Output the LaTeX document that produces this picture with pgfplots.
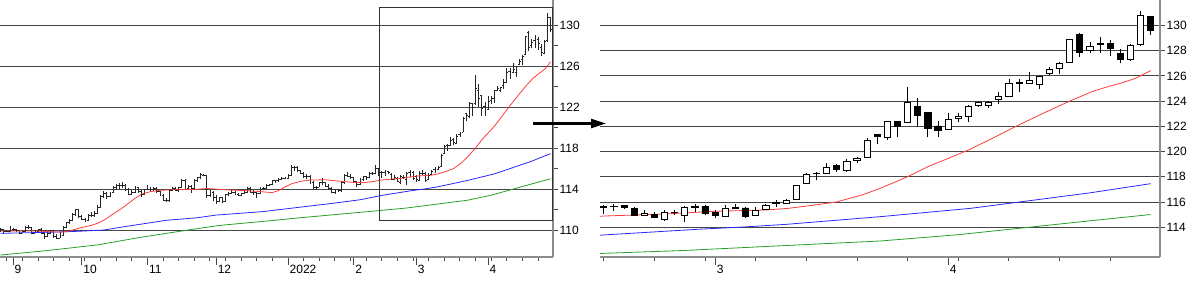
\documentclass[border=0pt]{standalone}
\usepackage{fontspec}
\setmainfont{Liberation Sans}
\usepackage{pgfplots}
\usepackage{pgfplotstable}
\pgfplotsset{compat=1.18}
\usetikzlibrary{arrows.meta}

\pgfdeclareplotmark{openL}{\pgfpathmoveto{\pgfqpoint{-1.5pt}{0pt}}\pgfpathlineto{\pgfqpoint{0pt}{0pt}}\pgfusepathqstroke}
\pgfdeclareplotmark{closeR}{\pgfpathmoveto{\pgfqpoint{0pt}{0pt}}\pgfpathlineto{\pgfqpoint{1.5pt}{0pt}}\pgfusepathqstroke}

\definecolor{maRed}{RGB}{255,60,60}
\definecolor{maBlue}{RGB}{40,40,255}
\definecolor{maGreen}{RGB}{40,160,40}
\definecolor{axgray}{RGB}{140,140,140}
\definecolor{gridc}{RGB}{70,70,70}

\pgfplotstableread{
x o h l c
0 110.00 110.20 109.85 110.08
1 110.08 110.10 109.60 109.83
2 109.83 110.00 109.80 109.91
3 109.91 110.40 109.85 110.02
4 110.02 110.20 109.95 110.02
5 110.02 110.10 109.85 109.93
6 109.93 110.00 109.60 109.71
7 109.71 109.90 109.70 109.83
8 109.83 110.40 109.80 110.27
9 110.27 110.45 110.10 110.25
10 110.25 110.30 109.60 109.72
11 109.72 110.05 109.70 109.92
12 109.92 110.15 109.85 110.04
13 110.04 110.20 109.60 109.69
14 109.69 109.80 109.15 109.37
15 109.37 109.80 109.30 109.71
16 109.71 110.05 109.65 109.94
17 109.94 110.00 109.25 109.39
18 109.39 109.60 109.10 109.22
19 109.22 109.85 109.20 109.53
20 109.53 110.40 109.45 110.31
21 110.31 110.80 110.20 110.74
22 110.74 111.05 110.60 110.98
23 110.98 111.70 110.90 111.51
24 111.51 112.05 111.40 111.97
25 111.97 112.10 111.20 111.29
26 111.29 111.45 110.95 111.04
27 111.04 111.20 110.80 110.92
28 110.92 111.55 110.85 111.44
29 111.44 111.80 111.30 111.43
30 111.43 111.90 111.30 111.63
31 111.63 112.40 111.60 112.21
32 112.21 113.40 112.15 113.30
33 113.30 113.80 113.10 113.60
34 113.60 113.75 113.00 113.26
35 113.26 113.75 113.20 113.68
36 113.68 114.30 113.65 114.21
37 114.21 114.45 113.95 114.33
38 114.33 114.60 114.00 114.37
39 114.37 114.70 114.10 114.34
40 114.34 114.45 113.80 114.00
41 114.00 114.10 113.40 113.50
42 113.50 113.90 113.40 113.70
43 113.70 114.30 113.60 114.13
44 114.13 114.20 113.60 113.77
45 113.77 113.90 113.25 113.53
46 113.53 114.00 113.40 113.95
47 113.95 114.40 113.90 114.00
48 114.00 114.20 113.70 113.95
49 113.95 114.20 113.80 114.07
50 114.07 114.20 113.60 113.75
51 113.75 113.80 113.30 113.38
52 113.38 113.50 112.80 112.90
53 112.90 113.10 112.70 112.86
54 112.86 114.00 112.75 113.90
55 113.90 114.15 113.80 114.09
56 114.09 114.20 113.80 113.90
57 113.90 114.20 113.70 114.14
58 114.14 114.95 114.10 114.81
59 114.81 114.95 114.00 114.10
60 114.10 114.40 113.95 114.28
61 114.28 114.35 113.60 114.02
62 114.02 114.95 113.90 114.89
63 114.89 115.20 114.70 115.12
64 115.12 115.52 115.00 115.40
65 115.36 115.45 115.25 115.36
66 115.36 115.40 113.10 113.37
67 113.37 113.90 113.20 113.64
68 113.64 113.85 112.80 113.17
69 113.17 113.40 112.55 112.81
70 112.81 113.20 112.70 113.15
71 113.15 113.25 112.60 112.81
72 112.81 113.55 112.75 113.48
73 113.48 113.70 113.30 113.54
74 113.54 113.90 113.50 113.70
75 113.70 113.80 113.40 113.48
76 113.48 113.60 113.30 113.40
77 113.40 113.65 113.30 113.56
78 113.56 113.85 113.50 113.72
79 113.72 114.20 113.60 114.03
80 114.03 114.20 113.60 113.71
81 113.71 113.90 113.40 113.70
82 113.70 113.75 113.15 113.60
83 113.60 114.15 113.50 114.08
84 114.08 114.20 113.90 114.10
85 114.10 114.45 114.00 114.38
86 114.38 114.45 114.30 114.41
87 114.41 114.90 114.35 114.83
88 114.83 114.90 114.60 114.81
89 114.81 115.05 114.65 114.95
90 114.95 115.15 114.85 115.06
91 115.06 115.20 114.95 115.08
92 115.08 115.45 115.00 115.33
93 115.33 116.35 115.30 116.12
94 116.12 116.20 115.80 116.14
95 116.14 116.20 115.70 115.84
96 115.84 115.90 115.50 115.57
97 115.57 115.65 115.10 115.19
98 115.19 115.45 115.00 115.26
99 115.26 115.40 114.50 114.66
100 114.66 114.80 113.95 114.19
101 114.19 114.30 113.90 114.21
102 114.21 114.70 114.15 114.61
103 114.61 115.05 114.40 114.62
104 114.62 114.70 114.20 114.31
105 114.31 114.50 113.95 114.09
106 114.09 114.15 113.60 113.71
107 113.71 114.00 113.50 113.96
108 113.96 114.05 113.70 113.84
109 113.84 114.75 113.75 114.68
110 114.68 115.50 114.50 115.35
111 115.35 115.70 115.20 115.27
112 115.27 115.50 115.00 115.10
113 115.10 115.20 114.60 114.72
114 114.72 114.80 114.15 114.46
115 114.46 115.05 114.40 114.95
116 114.95 115.30 114.80 115.22
117 115.22 115.30 114.90 115.11
118 115.11 115.70 115.05 115.57
119 115.57 115.70 115.40 115.54
120 115.54 116.35 115.50 116.04
121 116.04 116.10 115.30 115.42
122 115.60 115.78 115.08 115.65
123 115.62 115.83 115.28 115.64
124 115.70 115.78 115.42 115.60
125 115.45 115.58 114.88 114.95
126 114.90 115.33 114.88 115.12
127 115.02 115.20 114.75 114.77
128 114.62 115.33 114.52 115.20
129 115.13 115.33 114.95 115.16
130 114.90 115.70 114.40 115.57
131 115.60 115.83 115.20 115.63
132 115.62 115.73 114.93 115.08
133 115.20 115.33 114.70 114.95
134 114.88 115.78 114.82 115.52
135 115.55 115.83 115.40 115.50
136 115.52 115.62 114.70 114.82
137 114.92 115.58 114.90 115.32
138 115.40 115.83 115.38 115.70
139 115.88 116.12 115.58 116.00
140 115.90 116.25 115.82 116.15
141 116.20 117.38 116.15 117.33
142 117.50 118.28 117.45 118.15
143 118.24 118.38 117.70 118.27
144 118.29 119.08 118.18 118.71
145 118.87 119.00 118.34 118.55
146 118.47 119.40 118.39 119.18
147 119.29 119.58 119.08 119.45
148 119.57 121.07 119.52 120.85
149 121.36 121.40 120.60 121.20
150 121.12 122.45 120.93 122.37
151 122.37 122.43 121.17 122.00
152 122.32 125.12 122.24 123.87
153 123.60 124.24 122.00 122.85
154 123.12 123.17 121.15 121.87
155 122.03 122.45 121.15 121.65
156 121.73 123.07 121.68 122.56
157 122.64 123.07 122.32 122.80
158 122.80 123.65 122.37 123.60
159 123.65 124.03 123.52 123.87
160 123.65 124.00 123.47 123.92
161 124.10 124.73 123.76 124.38
162 124.38 125.76 124.30 125.38
163 125.44 125.76 124.73 125.48
164 125.43 126.30 125.35 125.65
165 125.35 126.03 124.97 125.92
166 126.20 126.70 126.08 126.48
167 126.62 127.07 126.14 126.99
168 127.10 128.96 127.04 128.88
169 129.32 129.40 127.50 127.86
170 128.00 128.65 127.78 128.32
171 128.52 129.05 127.78 128.56
172 128.60 128.81 127.60 128.19
173 127.80 128.10 127.00 127.30
174 127.27 128.54 127.21 128.41
175 128.46 131.16 128.38 130.76
176 130.70 130.76 129.27 129.62
}\ohlc

\pgfplotstableread{
x y
0 109.90
6 109.92
12 109.90
17 109.82
20 109.80
22 109.90
24 110.08
26 110.25
29 110.45
31 110.65
33 110.95
35 111.35
37 111.75
39 112.15
41 112.62
43 113.08
45 113.48
48 113.75
51 113.88
55 113.92
59 113.95
63 113.98
66 114.05
70 113.97
74 113.90
78 113.85
82 113.78
85 113.70
87 113.66
89 113.85
91 114.20
93 114.50
96 114.75
99 114.88
104 114.90
108 114.78
112 114.67
116 114.62
119 114.72
122 114.88
128 115.04
133 115.26
138 115.36
140.2 115.49
142.5 115.72
145 116.00
147.6 116.58
149.3 117.08
152 118.00
154.2 118.87
156 119.45
158.2 120.19
160.5 121.10
162.7 122.00
165.3 123.00
168 124.00
170.3 124.78
172 125.20
173 125.41
174.5 125.80
176 126.42
}\mared

\pgfplotstableread{
x y
0 109.68
15 109.78
25 109.88
33 110.00
41 110.39
53 110.95
63 111.20
69 111.46
84 111.80
95 112.20
104.5 112.54
115 112.95
122 113.38
131.3 113.83
136 114.02
140 114.22
149.3 114.83
158.2 115.49
163.1 116.00
170 116.72
176 117.45
}\mablue

\pgfplotstableread{
x y
0 107.56
15 108.00
31 108.55
45 109.30
60 110.00
70 110.45
86 110.90
96 111.20
105 111.45
122 111.92
130 112.15
140.2 112.55
149.3 112.90
157 113.40
164.1 114.00
170 114.50
176 115.00
}\magreen

\pgfplotsset{
  every tick label/.append style={font=\fontsize{12}{13}\selectfont},
  /pgf/number format/assume math mode=true,
  panel/.style={
    scale only axis, anchor=south west, height=257pt,
    tick style={draw=gridc, line width=0.8pt},
    major grid style={draw=gridc, line width=0.8pt},
  },
  noarrows/.style={axis line style={-, draw=axgray, line width=1.5pt},
    every outer x axis line/.append style={-},
    every outer y axis line/.append style={-}},
}

\begin{document}
\begin{tikzpicture}
% ---------------- left panel: grid, y axis, data
\begin{axis}[panel, at={(0pt,28pt)}, width=553pt,
  xmin=-0.16, xmax=176.8, ymin=107.37, ymax=132.44,
  axis x line=none, axis y line*=right, noarrows,
  xtick=\empty,
  ytick={110,114,...,130}, minor ytick={112,116,...,128},
  ytick pos=right, yticklabel pos=right, tick align=outside,
  major tick length=4.5pt, minor tick length=4.5pt,
  ymajorgrids,
  yticklabel style={anchor=west, inner sep=0pt, xshift=2pt},
]
\addplot[draw=none, mark=none,
  error bars/.cd, y dir=plus, y explicit, error mark=none,
  error bar style={draw=black!85, line width=0.7pt}]
  table[x=x, y=l, y error expr=\thisrow{h}-\thisrow{l}] {\ohlc};
\addplot[black!85, line width=0.7pt, only marks, mark=openL] table[x=x, y=o] {\ohlc};
\addplot[black!85, line width=0.7pt, only marks, mark=closeR] table[x=x, y=c] {\ohlc};
\addplot[maGreen, line width=0.8pt] table[x=x, y=y] {\magreen};
\addplot[maBlue, line width=0.8pt] table[x=x, y=y] {\mablue};
\addplot[maRed, line width=0.8pt] table[x=x, y=y] {\mared};
\end{axis}
% ---------------- left panel: x axis
\begin{axis}[panel, at={(0pt,28pt)}, width=553pt,
  xmin=-0.16, xmax=176.8, ymin=107.37, ymax=132.44,
  axis y line=none, axis x line*=bottom, noarrows,
  ytick=\empty,
  xtick={4,26,47,69,92,113,133,156}, xticklabels={9,10,11,12,2022,2,3,4},
  minor xtick={2,7,...,172},
  xtick pos=bottom, tick align=outside,
  major tick length=8pt, minor tick length=3.5pt,
  xticklabel style={anchor=north west, inner sep=0pt, xshift=1.5pt},
]
\end{axis}
% ---------------- right panel: grid, y axis, MAs, wicks
\begin{axis}[panel, at={(600pt,28pt)}, width=560pt,
  xmin=121.63, xmax=176.92, ymin=111.63, ymax=132.02,
  axis x line=none, axis y line*=right, noarrows,
  xtick=\empty,
  ytick={114,116,...,130},
  ytick pos=right, yticklabel pos=right, tick align=outside,
  major tick length=4.5pt,
  ymajorgrids,
  yticklabel style={anchor=west, inner sep=0pt, xshift=2pt},
]
\addplot[maGreen, line width=0.8pt] table[x=x, y=y] {\magreen};
\addplot[maBlue, line width=0.8pt] table[x=x, y=y] {\mablue};
\addplot[maRed, line width=0.8pt] table[x=x, y=y] {\mared};
\addplot[draw=none, mark=none, restrict x to domain=121:177,
  error bars/.cd, y dir=plus, y explicit, error mark=none,
  error bar style={draw=black, line width=0.8pt}]
  table[x=x, y=l, y error expr=\thisrow{h}-\thisrow{l}] {\ohlc};
\end{axis}
% ---------------- right panel: candle bodies, x axis
\begin{axis}[panel, at={(600pt,28pt)}, width=560pt,
  xmin=121.63, xmax=176.92, ymin=111.63, ymax=132.02,
  axis y line=none, axis x line*=bottom, noarrows,
  ytick=\empty,
  xtick={133,156}, xticklabels={3,4},
  minor xtick={122,127,...,172},
  xtick pos=bottom, tick align=outside,
  major tick length=8pt, minor tick length=3.5pt,
  xticklabel style={anchor=north west, inner sep=0pt, xshift=1.5pt},
  ybar stacked, bar width=6.2pt,
]
\addplot[draw=none, fill=none, restrict x to domain=121:177]
  table[x=x, y expr={min(\thisrow{o},\thisrow{c})}] {\ohlc};
\addplot[draw=black, fill=white, line width=0.8pt, restrict x to domain=121:177]
  table[x=x, y expr={max(\thisrow{c}-\thisrow{o},0)}] {\ohlc};
\addplot[draw=black, fill=black, line width=0.8pt, restrict x to domain=121:177]
  table[x=x, y expr={max(\thisrow{o}-\thisrow{c},0)}] {\ohlc};
\end{axis}
% zoom box and arrow
\draw[black!80, line width=0.8pt] (379pt,65pt) rectangle (552pt,278pt);
\draw[black, line width=2.3pt, -{Triangle[length=15pt, width=9pt]}] (533pt,161.5pt) -- (606pt,161.5pt);
\pgfresetboundingbox
\path[use as bounding box] (0pt,0pt) rectangle (1200pt,285pt);
\end{tikzpicture}
\end{document}
